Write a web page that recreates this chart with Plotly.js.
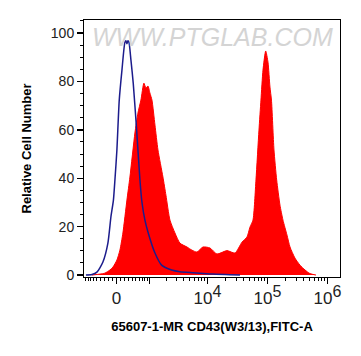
<!DOCTYPE html>
<html>
<head>
<meta charset="utf-8">
<script src="https://cdn.plot.ly/plotly-3.0.1.min.js"></script>
<style>html,body{margin:0;padding:0;background:#fff;}#chart{width:361px;height:356px;}</style>
</head>
<body>
<div id="chart"></div>
<script>
// Display-scale positions (biexponential channel, decades from zero) and relative counts
const sampleX = [-0.408,-0.275,-0.192,-0.108,-0.058,0.008,0.058,0.108,0.175,0.225,0.308,0.358,0.408,0.458,0.492,0.525,0.558,0.592,0.642,0.692,0.775,0.825,0.892,0.975,1.058,1.175,1.258,1.342,1.442,1.558,1.675,1.842,1.975,2.092,2.175,2.225,2.275,2.325,2.375,2.408,2.442,2.487,2.525,2.558,2.583,2.625,2.67,2.725,2.775,2.842,2.892,2.975,3.058,3.142,3.225,3.325];
const sampleY = [0,0.4,0.8,2.1,3.3,6.2,10.3,17.4,31,40.5,58.7,66.9,72.3,79.3,77.3,78.1,75.2,72.3,62,51.7,40.5,33,22.7,17.4,13.2,11.6,10.3,9.5,11.6,11.2,8.7,10.1,9.1,13.6,15.7,19.8,22.7,39.3,59.9,72.3,84.7,92.6,88,77.7,72.3,51.7,39.3,28.9,22.7,16.5,11.6,7,4.1,2.1,0.6,0];
const controlX = [-0.508,-0.408,-0.325,-0.225,-0.142,-0.092,-0.05,-0.025,0.008,0.047,0.092,0.142,0.158,0.175,0.192,0.208,0.242,0.28,0.337,0.392,0.425,0.475,0.53,0.642,0.753,0.92,1.058,1.275,1.392,1.608,2.058];
const controlY = [0,0.2,1.2,5.4,13.2,24,31,39.3,51.7,72.3,84.7,96.3,96.8,95.6,96.8,96.3,88.8,79.3,59.9,39.3,30.2,22.7,17.4,9.1,4.1,2.1,1.4,1.0,0.8,0.4,0];

const labeledTickValues = [0, 1e4, 1e5, 1e6];
const labeledTickText = ["0", "10<sup><span style='font-size:16px'>4</span></sup>", "10<sup><span style='font-size:16px'>5</span></sup>", "10<sup><span style='font-size:16px'>6</span></sup>"];
const unlabeledMajorValues = [1e3];
const yTickValues = [0, 20, 40, 60, 80, 100];
const yTickLabels = ["0", "20", "40", "60", "80", "100"];

const xTitle = "65607-1-MR CD43(W3/13),FITC-A";
const yTitle = "Relative Cell Number";
const watermark = "WWW.PTGLAB.COM";

// biexponential-style transform: value -> display decades
const C = 304;
function T(v){ return Math.asinh(v/(2*C))/Math.LN10; }

const minorVals = [];
for (let k=1;k<=9;k++){ minorVals.push(T(-k*100)); minorVals.push(T(k*100)); }
[1e3,1e4,1e5].forEach(d=>{ for(let k=2;k<=9;k++) minorVals.push(T(k*d)); });

const font = "Liberation Sans, Arial, sans-serif";
const xRange = [T(-967), 3.725];

const traces = [
  {x: sampleX, y: sampleY, type:"scatter", mode:"lines", fill:"tozeroy",
   fillcolor:"#ff0000", line:{color:"#ff0000", width:1, shape:"spline", smoothing:0.6}, hoverinfo:"skip"},
  {x: controlX, y: controlY, type:"scatter", mode:"lines",
   line:{color:"#1c1c8c", width:1.5, shape:"spline", smoothing:0.6}, hoverinfo:"skip"},
  {x: [], y: [], xaxis:"x2", yaxis:"y", type:"scatter", mode:"lines", hoverinfo:"skip"}
];

const layout = {
  width:361, height:356,
  margin:{l:84, r:21, t:20, b:79},
  paper_bgcolor:"#fff", plot_bgcolor:"#fff",
  showlegend:false,
  font:{family:font, color:"#222", size:14},
  xaxis:{
    range:xRange, showgrid:false, zeroline:false,
    showline:true, mirror:true, linecolor:"#000", linewidth:1,
    tickmode:"array", tickvals: labeledTickValues.map(T), ticktext: labeledTickText,
    ticks:"outside", ticklen:6, tickwidth:1.5, tickcolor:"#000",
    tickfont:{family:font, size:17, color:"#222"},
    minor:{tickmode:"array", tickvals:minorVals, ticks:"outside", ticklen:3, tickcolor:"#000", tickwidth:1},
    title:{text:"<b>"+xTitle+"</b>", font:{family:font, size:13, color:"#000"}, standoff:14}
  },
  xaxis2:{
    overlaying:"x", anchor:"y", side:"bottom", range:xRange,
    showgrid:false, zeroline:false, showline:false, showticklabels:false,
    tickmode:"array", tickvals: unlabeledMajorValues.map(T),
    ticks:"outside", ticklen:6, tickwidth:1.5, tickcolor:"#000"
  },
  yaxis:{
    range:[-0.8, 105.4], showgrid:false, zeroline:false,
    showline:true, mirror:true, linecolor:"#000", linewidth:1,
    tickmode:"array", tickvals:yTickValues, ticktext:yTickLabels,
    ticks:"outside", ticklen:6, tickwidth:1.5, tickcolor:"#000",
    tickfont:{family:font, size:14, color:"#222"},
    minor:{dtick:5, ticks:"outside", ticklen:3, tickcolor:"#000", tickwidth:1},
    title:{text:"<b>"+yTitle+"</b>", font:{family:font, size:13, color:"#000"}, standoff:16}
  },
  annotations:[{
    text:"<i>"+watermark+"</i>", xref:"paper", yref:"paper", x:0.5, y:0.995,
    xanchor:"center", yanchor:"top", showarrow:false,
    font:{family:font, size:25, color:"#d4d4d4"}
  }]
};

Plotly.newPlot("chart", traces, layout, {staticPlot:true, displayModeBar:false});
</script>
</body>
</html>
